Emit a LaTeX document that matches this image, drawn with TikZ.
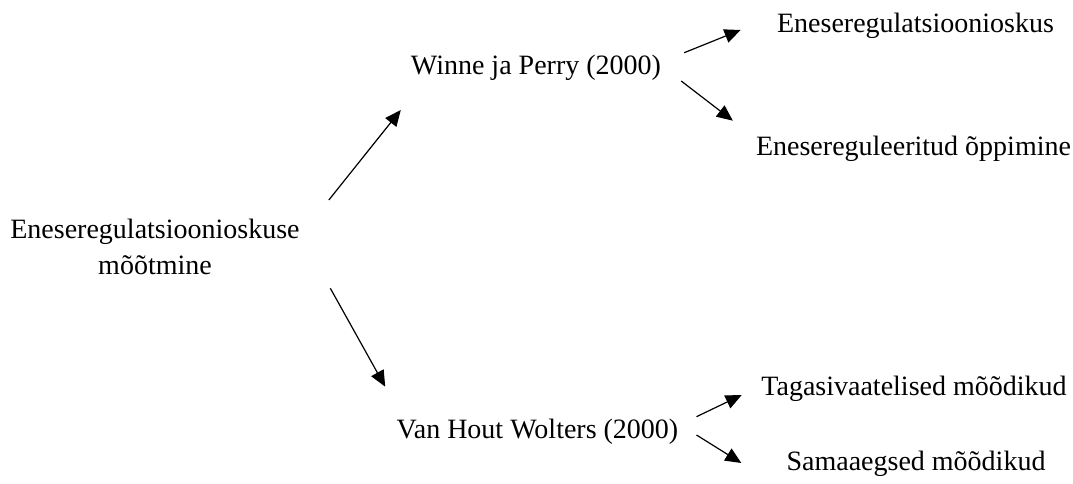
\documentclass[tikz,border=0pt]{standalone}
\usepackage{fontspec}
\setmainfont{Liberation Serif}
\usetikzlibrary{arrows.meta}
\begin{document}
\begin{tikzpicture}[x=1pt,y=-1pt,
  label/.style={inner sep=0pt,font=\fontsize{28}{36}\selectfont},
  arr/.style={line width=1.2pt,-{Triangle[length=16pt,width=14pt]}}]
\useasboundingbox[fill=white] (0,0) rectangle (1073,484);

% nodes (placed by their baselines)
\node[label,align=center,anchor=south] (root) at (155,275)
  {Eneseregulatsioonioskuse\\mõõtmine};
\node[label,anchor=base] (win) at (536,75) {Winne ja Perry (2000)};
\node[label,anchor=base] (van) at (537.5,438) {Van Hout Wolters (2000)};
\node[label,anchor=base] (esk) at (915.5,33) {Eneseregulatsioonioskus};
\node[label,anchor=base] (eop) at (913.5,155) {Enesereguleeritud õppimine};
\node[label,anchor=base] (tag) at (914,395) {Tagasivaatelised mõõdikud};
\node[label,anchor=base] (sam) at (916,470) {Samaaegsed mõõdikud};

% connectors
\draw[arr] ([shift={(29,-75)}]root.south east) -- ([shift={(-10,35)}]win.base west);
\draw[arr] ([shift={(30.5,13.3)}]root.south east) -- ([shift={(-11.3,-51.3)}]van.base west);
\draw[arr] ([shift={(23,-22.3)}]win.base east) -- ([shift={(-36.3,-3)}]esk.base west);
\draw[arr] ([shift={(20,6)}]win.base east) -- ([shift={(-23,-34.3)}]eop.base west);
\draw[arr] ([shift={(18,-21.3)}]van.base east) -- ([shift={(-19.5,0)}]tag.base west);
\draw[arr] ([shift={(18,-3)}]van.base east) -- ([shift={(-45,-7)}]sam.base west);
\end{tikzpicture}
\end{document}
